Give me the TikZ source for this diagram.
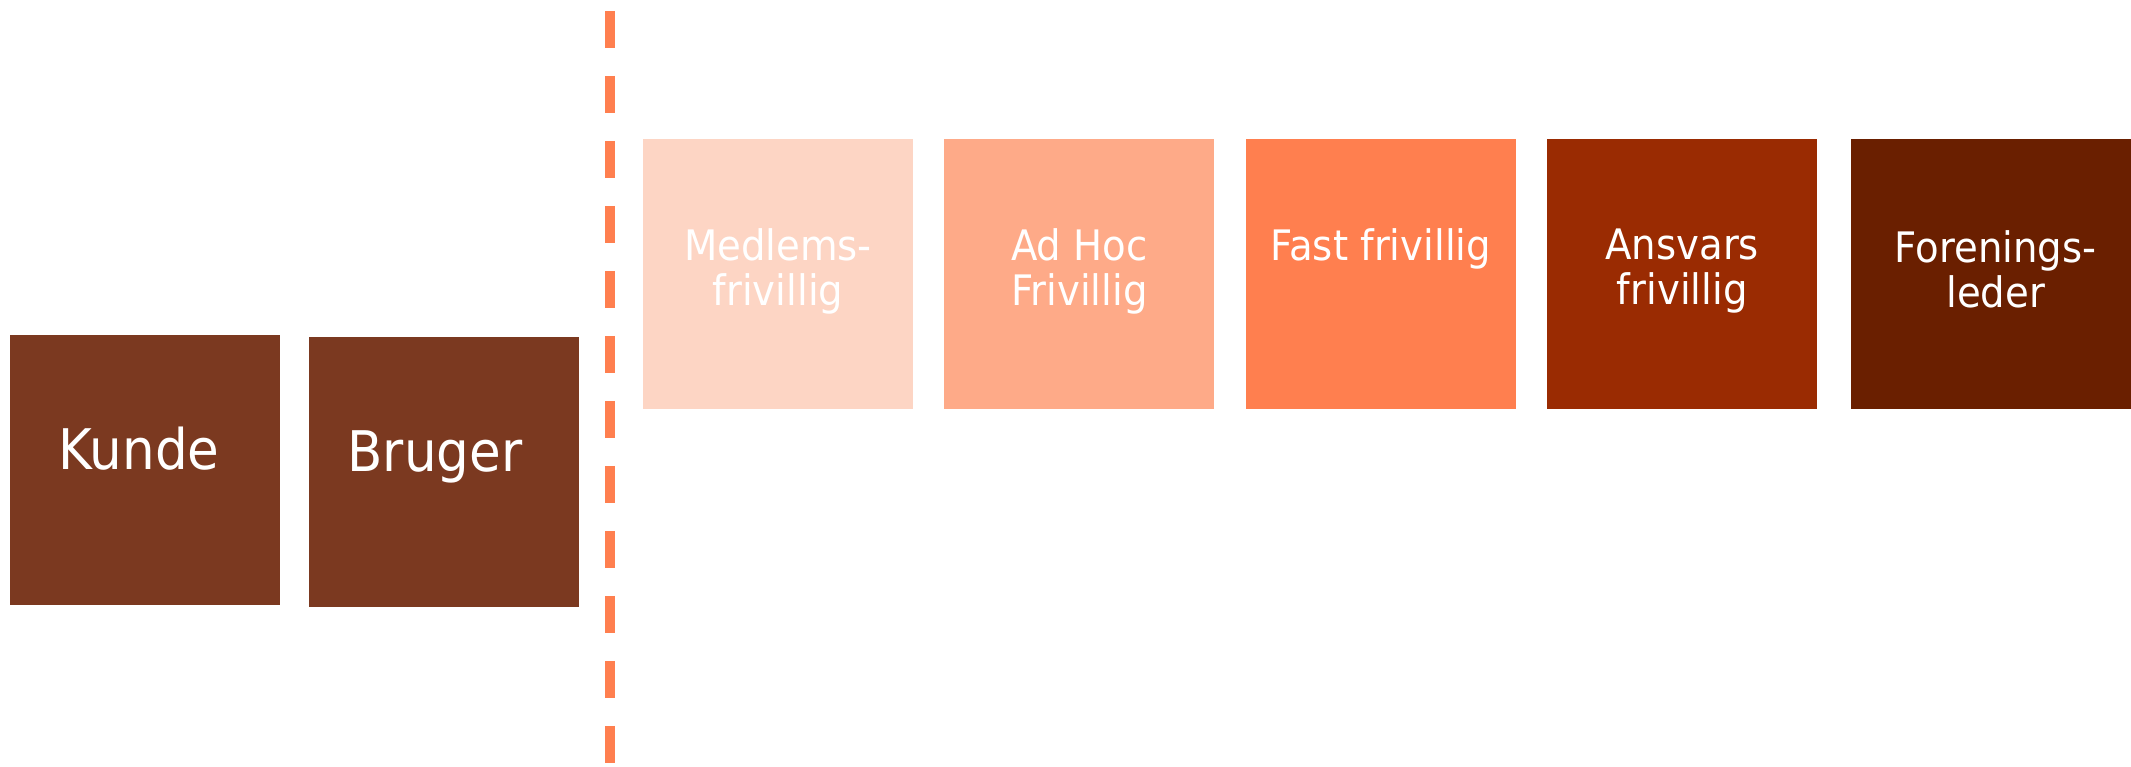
\documentclass[tikz,border=0pt]{standalone}
\usepackage{fontspec}
\setmainfont[FakeStretch=0.92]{DejaVu Sans}
\usetikzlibrary{positioning}

\definecolor{brun}{HTML}{7B3920}
\definecolor{lys}{HTML}{FDD5C4}
\definecolor{mellem}{HTML}{FEAA88}
\definecolor{koral}{HTML}{FF7F4F}
\definecolor{rust}{HTML}{9A2B02}
\definecolor{moerk}{HTML}{6A1F00}

\begin{document}
\begin{tikzpicture}[
    x=1pt, y=1pt,
    node distance=31pt,
    box/.style={minimum width=270pt, minimum height=270pt, inner sep=0pt},
    user/.style={box, fill=brun},
    role/.style={box},
    bigtext/.style={text=white, font=\fontsize{56}{60}\selectfont, anchor=base, inner sep=0pt},
    roletext/.style={text=white, font=\fontsize{42}{45}\selectfont, align=center, anchor=north, inner sep=0pt},
    divider/.style={draw=koral, line width=10pt, dash pattern=on 37pt off 28pt}
]
\useasboundingbox (0,0) rectangle (2131,767);

% Kunde og bruger
\node[user] (kunde) at (145,297) {};
\node[user, right=28.5pt of kunde, yshift=-2pt] (bruger) {};
\node[bigtext, xshift=-6pt] at (kunde.center) {Kunde};
\node[bigtext, xshift=-9pt] at (bruger.center) {Bruger};

% Skillelinje
\coordinate (top) at (610,756);
\coordinate (bund) at (610,0);
\draw[divider] (top) -- (bund);

% Frivillige
\node[role, fill=lys] (medlem) at (778,493) {};
\node[role, fill=mellem, right=of medlem] (adhoc) {};
\node[role, fill=koral, right=of adhoc] (fast) {};
\node[role, fill=rust, right=of fast] (ansvar) {};
\node[role, fill=moerk, right=33pt of ansvar, minimum width=290pt] (leder) {};

\node[roletext] at ([yshift=-90pt]medlem.north) {Medlems-\\frivillig};
\node[roletext] at ([yshift=-90pt]adhoc.north) {Ad Hoc\\Frivillig};
\node[roletext] at ([yshift=-90pt]fast.north) {Fast frivillig};
\node[roletext] at ([yshift=-90pt]ansvar.north) {Ansvars\\frivillig};
\node[roletext] at ([yshift=-92pt]leder.north) {Forenings-\\leder};

\end{tikzpicture}
\end{document}
